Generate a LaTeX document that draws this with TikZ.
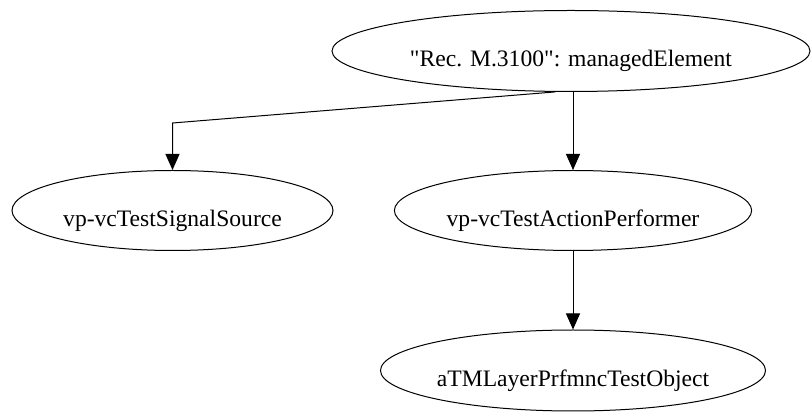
\documentclass[tikz,border=0pt]{standalone}
\usepackage{fontspec}
\setmainfont{Liberation Serif}[Ligatures=TeXOff]
\usetikzlibrary{arrows.meta,calc,shapes.geometric}
\begin{document}
\begin{tikzpicture}[x=1pt,y=1pt,
  obj/.style={draw, ellipse, line width=1pt, inner sep=0pt, text height=31.8pt, text depth=0pt, font=\fontsize{23.6}{28}\selectfont},
  conn/.style={line width=1pt, -{Triangle[length=16pt,width=14pt]}}]
\useasboundingbox (0,0) rectangle (811,412);
\node[obj, minimum width=478pt, minimum height=81pt] (top) at (571,361) {"Rec. M.3100": managedElement};
\node[obj, minimum width=321pt, minimum height=80pt] (sig) at (172.5,201.5) {vp-vcTestSignalSource};
\node[obj, minimum width=354pt, minimum height=80pt] (act) at (573,201.5) {vp-vcTestActionPerformer};
\node[obj, minimum width=370pt, minimum height=81pt] (bot) at (573,41.5) {aTMLayerPrfmncTestObject};
\coordinate (bend) at ($(sig.north)+(0,47)$);
\draw[conn] (top.-111) -- (bend) -- (sig.north);
\draw[conn] (act.north |- top.south) -- (act.north);
\draw[conn] (act.south) -- (bot.north);
\end{tikzpicture}
\end{document}
